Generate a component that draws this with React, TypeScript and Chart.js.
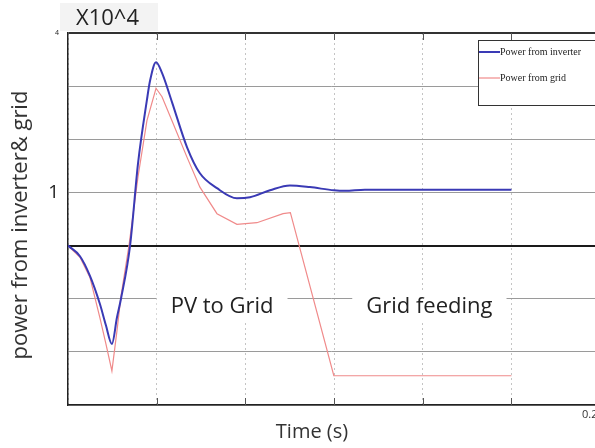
import React, { useEffect, useRef } from "react";
import { Chart, registerables } from "chart.js";

Chart.register(...registerables);

// time axis (s)
const xTickValues = [0, 0.04, 0.08, 0.12, 0.16, 0.2];
const xMax = 0.2377;
const yTickValues = [-3, -2, -1, 0, 1, 2, 3, 4];

// Power from inverter (x10^4)
const timeInverter = [0, 0.0054, 0.0099, 0.0144, 0.0171, 0.0198, 0.0221, 0.0239, 0.028, 0.0316, 0.0356, 0.037, 0.0397, 0.0424, 0.0469, 0.0537, 0.0595, 0.0672, 0.0762, 0.0821, 0.0911, 0.1001, 0.1091, 0.12, 0.1249, 0.1339, 0.2];
const powerInverter = [0, -0.2, -0.57, -1.1, -1.5, -1.85, -1.35, -1.0, 0.0, 1.55, 2.74, 3.1, 3.45, 3.25, 2.7, 1.85, 1.36, 1.08, 0.89, 0.91, 1.04, 1.13, 1.1, 1.04, 1.03, 1.05, 1.05];

// Power from grid (x10^4)
const timeGrid = [0, 0.0054, 0.0099, 0.0144, 0.0171, 0.0198, 0.0221, 0.0239, 0.0275, 0.0316, 0.0356, 0.0397, 0.0424, 0.0469, 0.0537, 0.0595, 0.0672, 0.0762, 0.0852, 0.097, 0.1003, 0.1199, 0.2];
const powerGrid = [0, -0.22, -0.6, -1.36, -1.85, -2.36, -1.6, -0.95, 0.0, 1.3, 2.35, 2.96, 2.8, 2.35, 1.66, 1.1, 0.6, 0.4, 0.43, 0.6, 0.62, -2.45, -2.45];

const seriesLabels = ["Power from inverter", "Power from grid"];
const annotations = [
  { text: "PV to Grid", t: 0.0695, v: -1.15 },
  { text: "Grid feeding", t: 0.163, v: -1.15 },
];
const multiplierLabel = "X10^4";
const xTitle = "Time (s)";
const yTitle = "power from inverter& grid";
const xEndLabel = "0.2";

const SANS = "'Open Sans', sans-serif";

const overlayPlugin = {
  id: "overlay",
  beforeDatasetsDraw(chart: any) {
    const ctx = chart.ctx;
    const xs = chart.scales.x;
    const ys = chart.scales.y;
    ctx.save();
    // small solid tick marks on top and bottom axes
    ctx.strokeStyle = "#555555";
    ctx.lineWidth = 1;
    xTickValues.slice(1).forEach((v) => {
      const px = Math.round(xs.getPixelForValue(v)) + 0.5;
      ctx.beginPath();
      ctx.moveTo(px, ys.bottom);
      ctx.lineTo(px, ys.bottom - 7);
      ctx.moveTo(px, ys.top);
      ctx.lineTo(px, ys.top + 7);
      ctx.stroke();
    });
    ctx.font = `22px ${SANS}`;
    ctx.textAlign = "center";
    ctx.textBaseline = "middle";
    annotations.forEach((a) => {
      const px = xs.getPixelForValue(a.t);
      const py = ys.getPixelForValue(a.v);
      const w = ctx.measureText(a.text).width;
      ctx.fillStyle = "#ffffff";
      ctx.fillRect(px - w / 2 - 14, py - 15, w + 28, 30);
      ctx.fillStyle = "#222222";
      ctx.fillText(a.text, px, py);
    });
    ctx.restore();
  },
  afterDraw(chart: any) {
    const ctx = chart.ctx;
    const xs = chart.scales.x;
    ctx.save();
    // multiplier label
    ctx.fillStyle = "#f3f3f3";
    ctx.fillRect(60, 3, 98, 28);
    ctx.fillStyle = "#222222";
    ctx.font = `22px ${SANS}`;
    ctx.textAlign = "left";
    ctx.textBaseline = "middle";
    ctx.fillText(multiplierLabel, 76, 19);
    // x axis title
    ctx.font = `20px ${SANS}`;
    ctx.textAlign = "center";
    ctx.fillStyle = "#333333";
    ctx.fillText(xTitle, 312, 432);
    // x end label
    ctx.font = `11px ${SANS}`;
    ctx.textAlign = "left";
    ctx.fillText(xEndLabel, xs.right - 13, 415);
    // y axis title
    ctx.translate(21, 225);
    ctx.rotate(-Math.PI / 2);
    ctx.font = `22px ${SANS}`;
    ctx.textAlign = "center";
    ctx.fillText(yTitle, 0, 0);
    ctx.setTransform(1, 0, 0, 1, 0, 0);
    // legend
    const lx = 478, ly = 40, lw = 130, lh = 65;
    ctx.fillStyle = "#ffffff";
    ctx.fillRect(lx, ly, lw, lh);
    ctx.strokeStyle = "#333333";
    ctx.lineWidth = 1;
    ctx.strokeRect(lx + 0.5, ly + 0.5, lw, lh);
    const ds = chart.data.datasets;
    const rows = [52, 78];
    ds.forEach((d: any, i: number) => {
      ctx.strokeStyle = d.borderColor;
      ctx.lineWidth = d.borderWidth;
      ctx.beginPath();
      ctx.moveTo(lx + 1, rows[i]);
      ctx.lineTo(lx + 22, rows[i]);
      ctx.stroke();
      ctx.fillStyle = "#222222";
      ctx.font = "10px 'Liberation Serif', serif";
      ctx.textAlign = "left";
      ctx.textBaseline = "middle";
      ctx.fillText(d.label, lx + 22, rows[i]);
    });
    ctx.restore();
  },
};

export default function App() {
  const canvasRef = useRef<HTMLCanvasElement | null>(null);

  useEffect(() => {
    if (!canvasRef.current) return;
    const chart = new Chart(canvasRef.current, {
      type: "line",
      data: {
        datasets: [
          {
            label: seriesLabels[0],
            data: timeInverter.map((t, i) => ({ x: t, y: powerInverter[i] })),
            borderColor: "#3a3ab5",
            borderWidth: 2,
            pointRadius: 0,
            cubicInterpolationMode: "monotone",
            fill: false,
          },
          {
            label: seriesLabels[1],
            data: timeGrid.map((t, i) => ({ x: t, y: powerGrid[i] })),
            borderColor: "#f08a8a",
            borderWidth: 1.2,
            pointRadius: 0,
            tension: 0,
            fill: false,
          },
        ],
      },
      options: {
        responsive: false,
        animation: false,
        layout: { padding: { left: 0, top: 33, right: 0, bottom: 0 } },
        plugins: {
          legend: { display: false },
          tooltip: { enabled: false },
        },
        scales: {
          x: {
            type: "linear",
            min: 0,
            max: xMax,
            afterBuildTicks: (scale: any) => {
              scale.ticks = xTickValues.map((v) => ({ value: v }));
            },
            afterFit: (scale: any) => {
              scale.height = 43;
            },
            grid: {
              color: "#c4c4c4",
              lineWidth: 1,
              drawTicks: false,
            },
            border: { display: true, color: "#222222", width: 1.5, dash: [2, 3] },
            ticks: { display: false },
          },
          y: {
            type: "linear",
            min: -3,
            max: 4,
            afterBuildTicks: (scale: any) => {
              scale.ticks = yTickValues.map((v) => ({ value: v }));
            },
            afterFit: (scale: any) => {
              scale.width = 68;
            },
            grid: {
              color: (c: any) => (c.tick && c.tick.value === 0 ? "#1a1a1a" : c.tick && c.tick.value === 4 ? "#333333" : "#9a9a9a"),
              lineWidth: (c: any) => (c.tick && (c.tick.value === 0 || c.tick.value === 4) ? 2 : 1),
              drawTicks: false,
            },
            border: { display: true, color: "#222222", width: 1.5 },
            ticks: {
              color: "#222222",
              padding: 9,
              autoSkip: false,
              font: (c: any) => (c.tick && c.tick.value === 4 ? { size: 7, family: SANS } : { size: 19, family: SANS }),
              callback: (v: any) => (v === 1 ? "1" : v === 4 ? "4" : ""),
            },
          },
        },
      },
      plugins: [overlayPlugin],
    } as any);
    return () => chart.destroy();
  }, []);

  return (
    <div style={{ position: "fixed", left: 0, top: 0, width: 595, height: 448, background: "#ffffff" }}>
      <canvas ref={canvasRef} width={595} height={448} style={{ display: "block" }} />
    </div>
  );
}
